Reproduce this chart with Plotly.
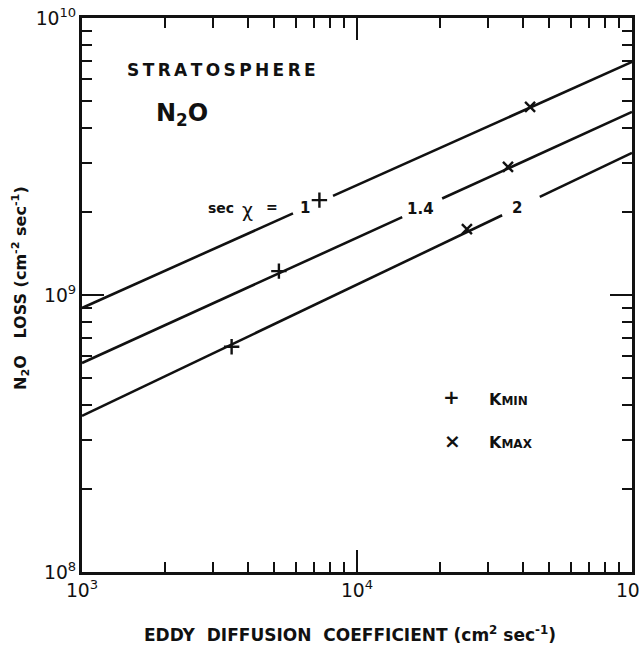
import plotly.graph_objects as go

# ---- data ----
# each secX line: points [left end, gap start, gap end, right end]
line_sec1_x = [1e3, 5.85e3, None, 8.18e3, 1e5]
line_sec1_y = [8.98e8, 1.97e9, None, 2.28e9, 6.94e9]
line_sec14_x = [1e3, 1.46e4, None, 2.04e4, 1e5]
line_sec14_y = [5.68e8, 1.91e9, None, 2.23e9, 4.58e9]
line_sec2_x = [1e3, 3.37e4, None, 4.62e4, 1e5]
line_sec2_y = [3.66e8, 1.94e9, None, 2.26e9, 3.26e9]

kmin_x = [7.3e3, 5.2e3, 3.5e3]
kmin_y = [2.2e9, 1.22e9, 6.5e8]
kmax_x = [4.26e4, 3.54e4, 2.51e4]
kmax_y = [4.78e9, 2.9e9, 1.73e9]

sec_labels = ["1", "1.4", "2"]

FONT = "DejaVu Sans"
BLACK = "#111111"
THIN = "\u2009"

fig = go.Figure()
for xs, ys in [(line_sec1_x, line_sec1_y), (line_sec14_x, line_sec14_y), (line_sec2_x, line_sec2_y)]:
    fig.add_trace(go.Scatter(x=xs, y=ys, mode="lines", line=dict(color=BLACK, width=2.6),
                             showlegend=False, connectgaps=False, hoverinfo="skip"))

fig.add_trace(go.Scatter(x=kmin_x, y=kmin_y, mode="markers", showlegend=False,
                         marker=dict(symbol="cross-thin", size=11, line=dict(color=BLACK, width=2.4))))
fig.add_trace(go.Scatter(x=kmax_x, y=kmax_y, mode="markers", showlegend=False,
                         marker=dict(symbol="x-thin", size=10, line=dict(color=BLACK, width=2.4))))

axis_common = dict(
    type="log", showline=True, linecolor=BLACK, linewidth=2.6, mirror="allticks",
    ticks="inside", ticklen=22, tickwidth=2, tickcolor=BLACK, dtick=1,
    exponentformat="power", showgrid=False, zeroline=False, ticklabeloverflow="allow",
    automargin=False,
    tickfont=dict(family=FONT, size=15, color=BLACK),
    minor=dict(ticks="inside", ticklen=10, tickwidth=2, tickcolor=BLACK, dtick="D1", showgrid=False),
)

fig.update_layout(
    width=639, height=648,
    margin=dict(l=82, r=7, t=18, b=76, autoexpand=False),
    paper_bgcolor="white", plot_bgcolor="white",
    xaxis=dict(range=[3, 5], **axis_common),
    yaxis=dict(range=[8, 10], **axis_common),
    showlegend=False,
)

ann = []
def A(text, x, y, size=15, bold=True, xanchor="center", yanchor="middle", angle=0):
    t = f"<b>{text}</b>" if bold else text
    ann.append(dict(text=t, x=x, y=y, xref="paper", yref="paper", showarrow=False,
                    xanchor=xanchor, yanchor=yanchor, textangle=angle,
                    font=dict(family=FONT, size=size, color=BLACK)))

def px(xp):  # pixel -> paper x
    return (xp - 82) / 550.0

def py(yp):  # pixel -> paper y
    return (572 - yp) / 554.0

A(THIN.join("STRATOSPHERE"), px(125), py(70), size=17, xanchor="left")
A("N<sub>2</sub>O", px(154), py(114), size=24, xanchor="left")

A("sec", px(206), py(208), size=14, xanchor="left")
A("χ", px(240), py(210), size=19, bold=False, xanchor="left")
A("=", px(272), py(207), size=14)
A(sec_labels[0], px(305), py(208), size=15)
A(sec_labels[1], px(420), py(209), size=15)
A(sec_labels[2], px(517), py(208), size=15)

# legend
A("+", px(451), py(397), size=20, xanchor="center")
A("×", px(452), py(441), size=20, xanchor="center")
A("K<span style='font-size:12px'>MIN</span>", px(487), py(399), size=16, xanchor="left")
A("K<span style='font-size:12px'>MAX</span>", px(487), py(442), size=16, xanchor="left")

A("EDDY&nbsp;&nbsp;DIFFUSION&nbsp;&nbsp;COEFFICIENT (cm<sup>2</sup> sec<sup>-1</sup>)", px(350), py(634), size=17)
A("N<sub>2</sub>O&nbsp;&nbsp;&nbsp;LOSS (cm<sup>-2</sup> sec<sup>-1</sup>)", px(20), py(288), size=16, angle=-90)

fig.update_layout(annotations=ann)
fig.write_html("out.html")
